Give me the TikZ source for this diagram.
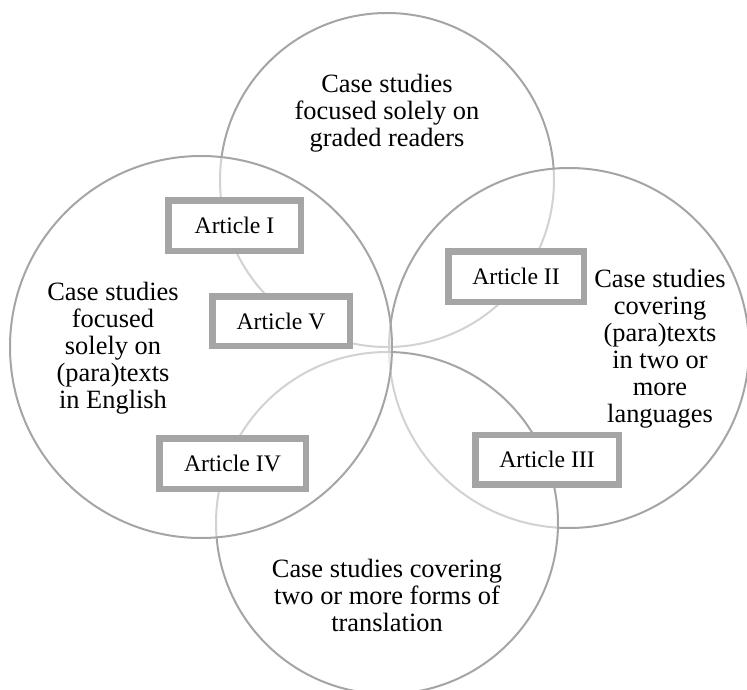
\documentclass[tikz,border=0pt]{standalone}
\usepackage{fontspec}
\setmainfont{Liberation Serif}
\definecolor{ringgray}{HTML}{A5A5A5}
\begin{document}
\begin{tikzpicture}[x=1pt,y=-1pt,
  ring/.style={circle, draw=ringgray, line width=2pt, fill=white, fill opacity=0.5, inner sep=0pt},
  artbox/.style={draw=ringgray, line width=6.5pt, fill=white, inner sep=0pt, font=\fontsize{23.7}{28}\selectfont},
  lbl/.style={align=center, font=\fontsize{26.4}{27}\selectfont, inner sep=0pt}]
\useasboundingbox (0,0) rectangle (747,690);
% circles (drawing order gives the lighter covered arcs)
\node[ring, minimum size=334pt] (top) at (387,180) {};
\node[ring, minimum size=360pt] (right) at (569,348) {};
\node[ring, minimum size=342pt] (bottom) at (387,523) {};
\node[ring, minimum size=382pt] (left) at (201,347) {};
% article boxes
\node[artbox, minimum width=132.5pt, minimum height=50.5pt] (a1) at (234.5,225.5) {Article I};
\node[artbox, minimum width=137.5pt, minimum height=49.5pt] (a5) at (281,321) {Article V};
\node[artbox, minimum width=135.5pt, minimum height=50.5pt] (a2) at (516,276.5) {Article II};
\node[artbox, minimum width=143.5pt, minimum height=49.5pt] (a3) at (547,459.5) {Article III};
\node[artbox, minimum width=146.5pt, minimum height=50.5pt] (a4) at (232.5,463.5) {Article IV};
% circle labels
\node[lbl] (ltop) at (387,112.7) {Case studies\\focused solely on\\graded readers};
\node[lbl] (lleft) at (113,347.7) {Case studies\\focused\\solely on\\(para)texts\\in English};
\node[lbl] (lright) at (660,348.4) {Case studies\\covering\\(para)texts\\in two or\\more\\languages};
\node[lbl] (lbottom) at (387,595.4) {Case studies covering\\two or more forms of\\translation};
\end{tikzpicture}
\end{document}
